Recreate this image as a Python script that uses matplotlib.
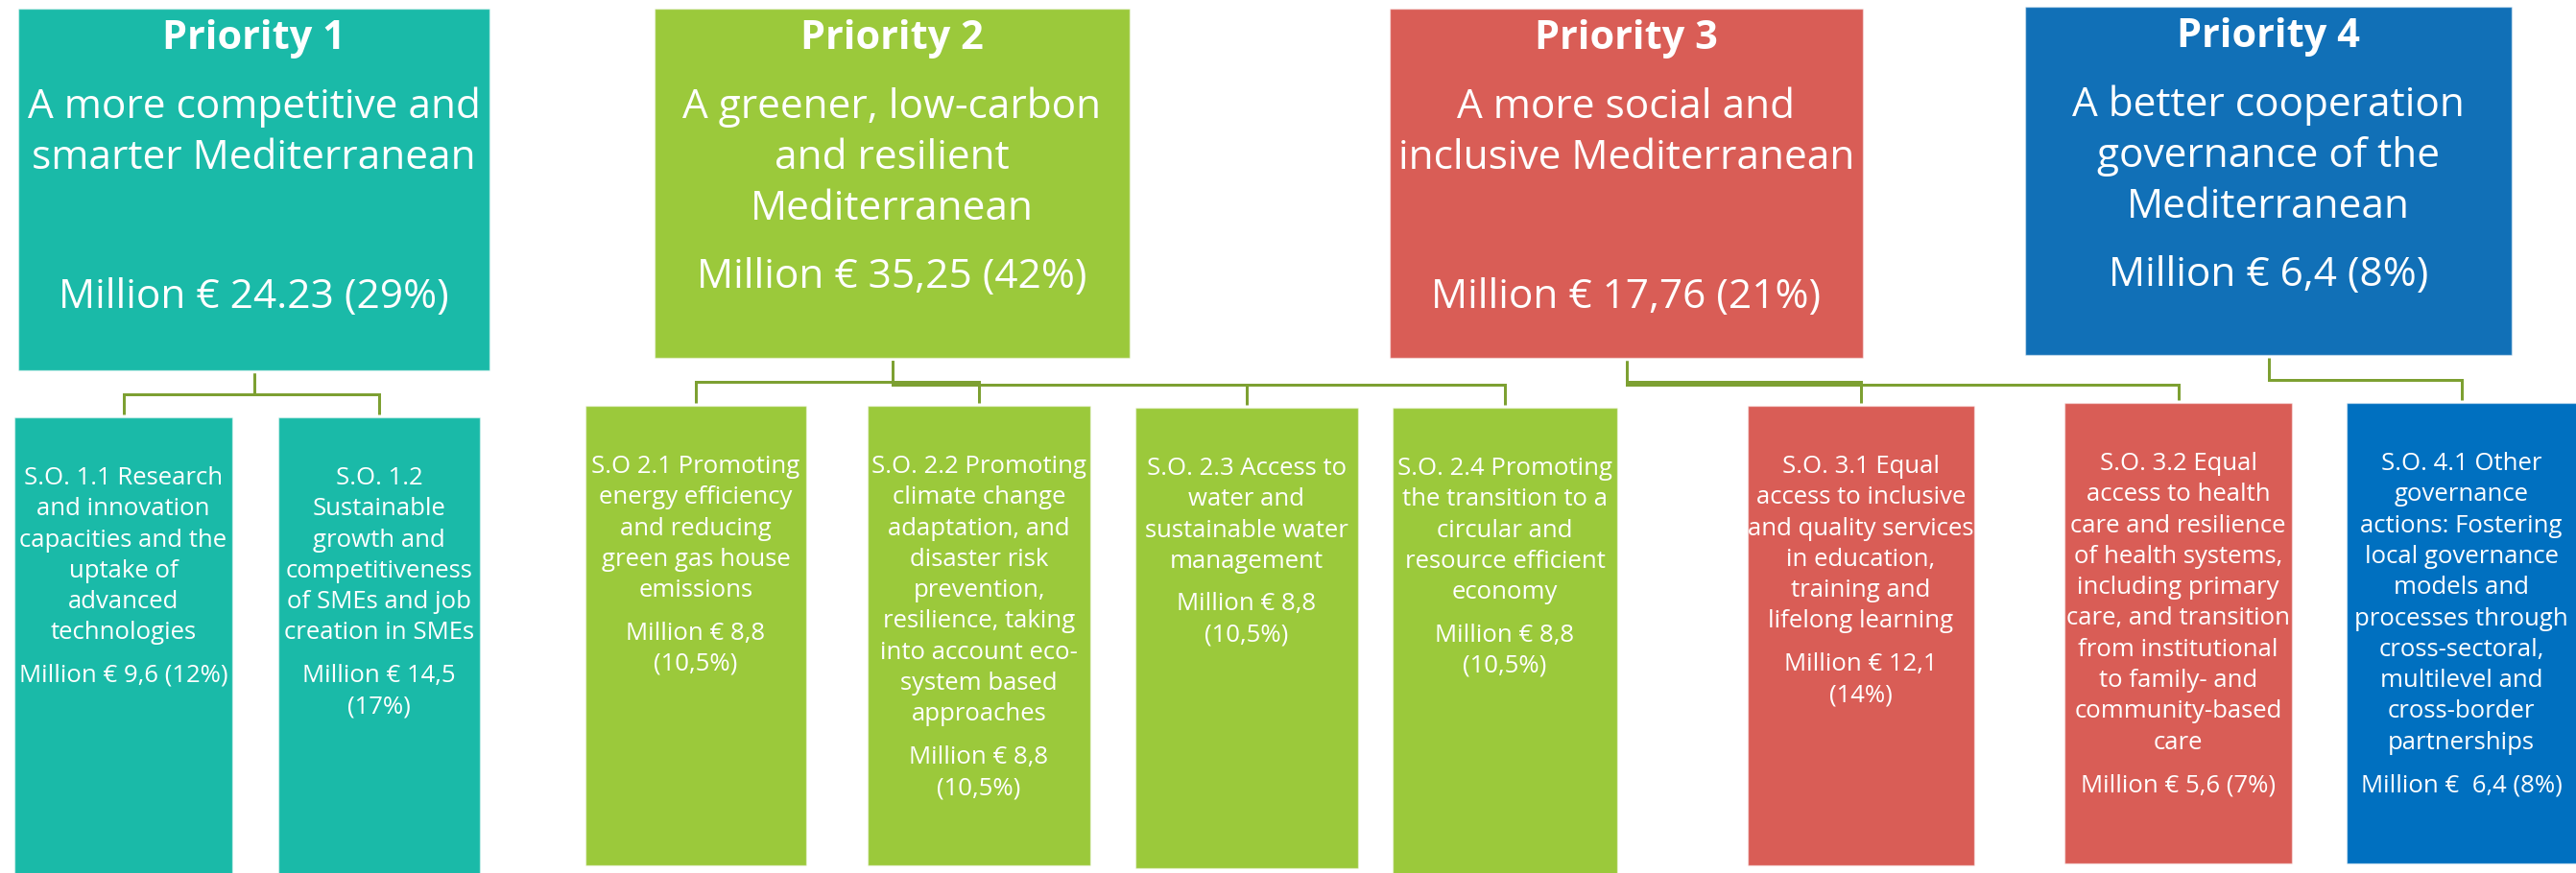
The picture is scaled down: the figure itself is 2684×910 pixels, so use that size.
import matplotlib
matplotlib.use("Agg")
import matplotlib.pyplot as plt
from matplotlib.patches import Rectangle

# ── Data ──────────────────────────────────────────────────────────────────────
PRIORITY_TITLES = ["Priority 1", "Priority 2", "Priority 3", "Priority 4"]
PRIORITY_NAMES = [
    "A more competitive and\nsmarter Mediterranean",
    "A greener, low-carbon\nand resilient\nMediterranean",
    "A more social and\ninclusive Mediterranean",
    "A better cooperation\ngovernance of the\nMediterranean",
]
PRIORITY_AMOUNTS = ["24.23", "35,25", "17,76", "6,4"]
PRIORITY_SHARES = ["29%", "42%", "21%", "8%"]

SO_PARENT = [0, 0, 1, 1, 1, 1, 2, 2, 3]
SO_TEXT = [
    "S.O. 1.1 Research\nand innovation\ncapacities and the\nuptake of\nadvanced\ntechnologies",
    "S.O. 1.2\nSustainable\ngrowth and\ncompetitiveness\nof SMEs and job\ncreation in SMEs",
    "S.O 2.1 Promoting\nenergy efficiency\nand reducing\ngreen gas house\nemissions",
    "S.O. 2.2 Promoting\nclimate change\nadaptation, and\ndisaster risk\nprevention,\nresilience, taking\ninto account eco-\nsystem based\napproaches",
    "S.O. 2.3 Access to\nwater and\nsustainable water\nmanagement",
    "S.O. 2.4 Promoting\nthe transition to a\ncircular and\nresource efficient\neconomy",
    "S.O. 3.1 Equal\naccess to inclusive\nand quality services\nin education,\ntraining and\nlifelong learning",
    "S.O. 3.2 Equal\naccess to health\ncare and resilience\nof health systems,\nincluding primary\ncare, and transition\nfrom institutional\nto family- and\ncommunity-based\ncare",
    "S.O. 4.1 Other\ngovernance\nactions: Fostering\nlocal governance\nmodels and\nprocesses through\ncross-sectoral,\nmultilevel and\ncross-border\npartnerships",
]
SO_MONEY = [
    "Million € 9,6 (12%)",
    "Million € 14,5\n(17%)",
    "Million € 8,8\n(10,5%)",
    "Million € 8,8\n(10,5%)",
    "Million € 8,8\n(10,5%)",
    "Million € 8,8\n(10,5%)",
    "Million € 12,1\n(14%)",
    "Million € 5,6 (7%)",
    "Million €  6,4 (8%)",
]

# ── Layout (pixels, y down) ───────────────────────────────────────────────────
W, H = 2684, 910
P_BOX = [(19, 510, 9, 386), (682, 1177, 9, 373), (1448, 1941, 9, 373), (2110, 2617, 7, 370)]
SO_BOX = [(15, 242, 435, 915), (290, 500, 435, 915), (610, 840, 423, 902),
          (904, 1136, 423, 902), (1183, 1415, 425, 905), (1451, 1685, 425, 915),
          (1821, 2057, 423, 902), (2151, 2388, 420, 900), (2445, 2690, 420, 900)]
ELBOW_Y = [411, 411, 398, 398, 401, 401, 398, 401, 396]

P_COLORS = ["#1abaa8", "#9bc93b", "#d95d56", "#1170b7"]
SO_COLORS = ["#1abaa8", "#1abaa8", "#9bc93b", "#9bc93b", "#9bc93b", "#9bc93b",
             "#d95d56", "#d95d56", "#0070c0"]
LINE = "#7da032"

PX = 72 / 100  # points per pixel at dpi 100

plt.rcParams["font.family"] = ["Open Sans", "DejaVu Sans"]

fig = plt.figure(figsize=(W / 100, H / 100), dpi=100)
ax = fig.add_axes([0, 0, 1, 1])
ax.set_xlim(0, W)
ax.set_ylim(H, 0)
ax.axis("off")


def box(x0, x1, y0, y1, color):
    ax.add_patch(Rectangle((x0, y0), x1 - x0, y1 - y0, facecolor=color,
                           edgecolor=(1, 1, 1, 0.45), lw=1.0, zorder=1))


def lines(x, y, text, size, step, weight="normal"):
    for i, ln in enumerate(text.split("\n")):
        ax.text(x, y + i * step, ln, ha="center", va="baseline", color="white",
                fontsize=size, fontweight=weight, zorder=3)
    return y + (len(text.split("\n")) - 1) * step


# priority boxes
for i, (x0, x1, y0, y1) in enumerate(P_BOX):
    box(x0, x1, y0, y1, P_COLORS[i])
    cx = (x0 + x1) / 2
    lines(cx, y0 + 42, PRIORITY_TITLES[i], 41.5 * PX, 0, weight="bold")
    n = len(PRIORITY_NAMES[i].split("\n"))
    lines(cx, y0 + 114, PRIORITY_NAMES[i], 42.4 * PX, 53)
    money = f"Million € {PRIORITY_AMOUNTS[i]} ({PRIORITY_SHARES[i]})"
    lines(cx, y0 + (312 if n == 2 else 291), money, 42.4 * PX, 53)

# specific objective boxes + elbow connectors
for j, (x0, x1, y0, y1) in enumerate(SO_BOX):
    box(x0, x1, y0, y1, SO_COLORS[j])
    cx = (x0 + min(x1, W)) / 2
    last = lines(cx, y0 + 70, SO_TEXT[j], 25.8 * PX, 32.3)
    lines(cx, last + 44.4, SO_MONEY[j], 25.8 * PX, 32.3)

    px0, px1, _, pb = P_BOX[SO_PARENT[j]]
    pcx = (px0 + px1) / 2
    ey = ELBOW_Y[j]
    ax.plot([pcx, pcx, cx, cx], [pb + 3, ey, ey, y0 - 3], color=LINE,
            lw=3 * PX, solid_joinstyle="miter", solid_capstyle="butt", zorder=0)

fig.savefig("out.png", dpi=100)
